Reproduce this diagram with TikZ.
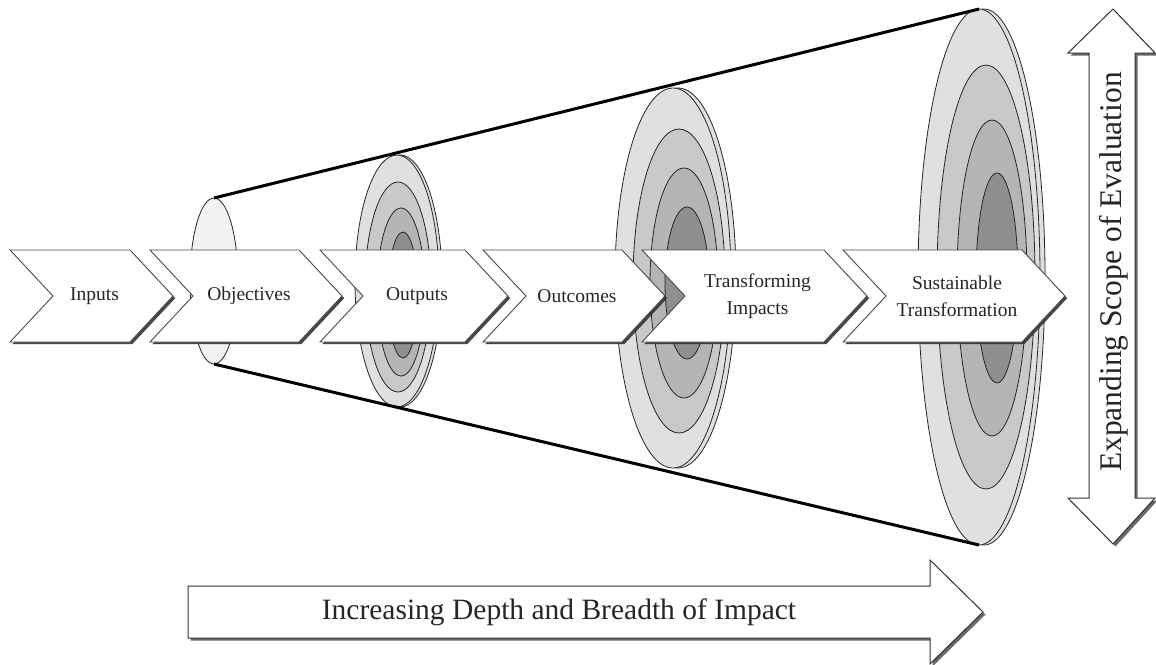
\documentclass[tikz,border=0pt]{standalone}
\usepackage{fontspec}
\setmainfont{Liberation Serif}
\usetikzlibrary{shadows}

\definecolor{toneA}{gray}{0.88}
\definecolor{toneB}{gray}{0.79}
\definecolor{toneC}{gray}{0.71}
\definecolor{toneD}{gray}{0.56}
\definecolor{capfill}{gray}{0.95}

\tikzset{
  stage/.style={draw=black!70, fill=white, line width=0.9pt,
    drop shadow={shadow xshift=2.2pt, shadow yshift=-2.2pt, fill=black!80, opacity=0.9}},
  stagetext/.style={font=\fontsize{19.5}{27}\selectfont, text=black!85, align=center},
  ring/.style={draw=black!85, line width=0.8pt},
  cone/.style={line width=3pt, black},
  bigarrow/.style={draw=black!80, fill=white, line width=1pt,
    drop shadow={shadow xshift=2.5pt, shadow yshift=-2.5pt, fill=black!65, opacity=0.9}},
}

% one step of the chain: left x, corner x, name, label
\newcommand{\stage}[4]{%
  \draw[stage] (#1,250) -- (#2,250) -- ({#2+43},296) -- (#2,342) -- (#1,342) -- ({#1+43},296) -- cycle;
  \node[stagetext] (#3) at ({(#1+#2+43)/2+3},296) {#4};
}

\begin{document}
\begin{tikzpicture}[x=1pt, y=-1pt]
\useasboundingbox (0,0) rectangle (1156,664);

% small cap of the cone
\draw[ring, fill=capfill] (214,281) ellipse [x radius=24pt, y radius=83pt];

% discs: back rim first, then the nested rings
\draw[ring, fill=toneA] (400,281) ellipse [x radius=42pt, y radius=126pt];
\foreach \cx/\cy/\rx/\ry/\tone in {397/281/42/126/toneA, 398/287/33/105/toneB, 401/292/24/84/toneC, 403/295/15/63/toneD}
  \draw[ring, fill=\tone] (\cx,\cy) ellipse [x radius=\rx pt, y radius=\ry pt];

\draw[ring, fill=toneA] (678,278) ellipse [x radius=58pt, y radius=190pt];
\foreach \cx/\cy/\rx/\ry/\tone in {673/278/58/190/toneA, 679/281/46/152/toneB, 684/283/34/115/toneC, 687/283/22/76/toneD}
  \draw[ring, fill=\tone] (\cx,\cy) ellipse [x radius=\rx pt, y radius=\ry pt];

\draw[ring, fill=toneA] (984,277) ellipse [x radius=61pt, y radius=268pt];
\foreach \cx/\cy/\rx/\ry/\tone in {979/277/61/268/toneA, 986/277/49/212/toneB, 992/278/35/158/toneC, 997/278/21/105/toneD}
  \draw[ring, fill=\tone] (\cx,\cy) ellipse [x radius=\rx pt, y radius=\ry pt];

% sides of the cone
\coordinate (captop) at (214,198);
\coordinate (capbot) at (214,364);
\coordinate (endtop) at (979,9);
\coordinate (endbot) at (979,545);
\draw[cone] (captop) -- (endtop);
\draw[cone] (capbot) -- (endbot);

% the chain of steps
\stage{10}{130}{inputs}{Inputs}
\stage{150}{299}{objectives}{Objectives}
\stage{320}{465}{outputs}{Outputs}
\stage{483}{622}{outcomes}{Outcomes}
\stage{642}{824}{impacts}{Transforming\\Impacts}
\stage{843}{1022}{sustain}{Sustainable\\Transformation}

% scope arrow
\draw[bigarrow] (1113,9) -- (1155,53) -- (1135,53) -- (1135,498) -- (1155,498) -- (1113,544)
  -- (1068,498) -- (1089,498) -- (1089,53) -- (1068,53) -- cycle;
\node[rotate=90, font=\fontsize{31.5}{34}\selectfont, text=black!85] (scope) at (1114,272) {Expanding Scope of Evaluation};

% depth arrow
\draw[bigarrow] (188,586) -- (930,586) -- (930,560) -- (983,612) -- (930,664) -- (930,638) -- (188,638) -- cycle;
\node[font=\fontsize{29.5}{32}\selectfont, text=black!85] (depth) at (559,612) {Increasing Depth and Breadth of Impact};
\end{tikzpicture}
\end{document}
